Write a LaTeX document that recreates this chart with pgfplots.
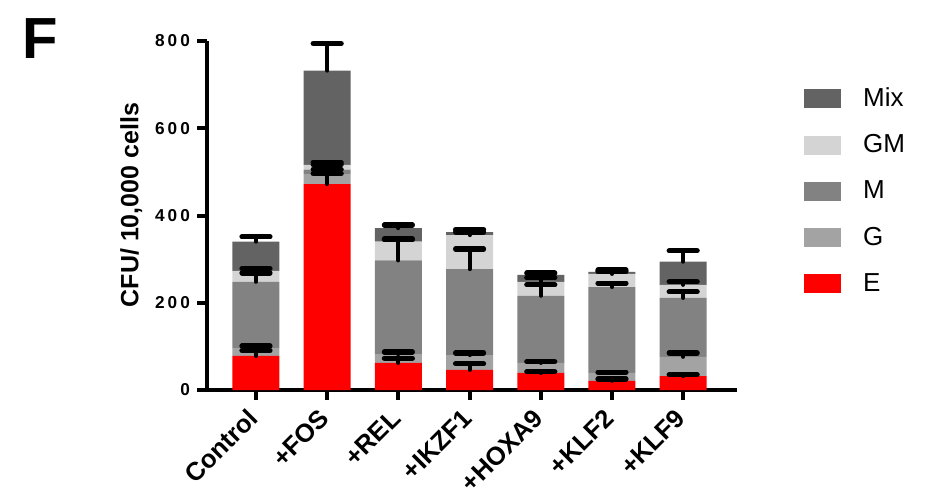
\documentclass[border=0pt]{standalone}
\usepackage{fontspec}
\setmainfont{Liberation Sans}
\usepackage{pgfplots}
\usepackage{pgfplotstable}
\pgfplotsset{compat=1.18}

\definecolor{cMix}{RGB}{99,99,99}
\definecolor{cGM}{RGB}{212,212,212}
\definecolor{cM}{RGB}{130,130,130}
\definecolor{cG}{RGB}{163,163,163}
\definecolor{cE}{RGB}{255,0,0}

% segment heights (stacked from the bottom: E, G, M, GM, Mix)
\pgfplotstableread{
x E   G  M   GM Mix
0 78  18 152 25 67
1 472 23 10  11 216
2 62  20 215 43 31
3 46  34 197 78 7
4 39  23 154 32 16
5 21  18 197 30 5
6 32  44 135 30 53
}\seg

% top of each segment and its error (plus only)
\pgfplotstableread{
x Et  Ee Gt  Ge Mt  Me GMt GMe Mixt Mixe
0 78  12 96  5  248 20 273 6   340  11
1 472 24 495 11 505 11 516 6   732  62
2 62  11 82  5  297 49 340 5   371  7
3 46  14 80  5  277 46 355 7   362  6
4 39  3  62  3  216 25 248 9   264  4
5 21  4  39  2  236 9  266 5   271  4
6 32  3  76  9  211 14 241 7   294  25
}\err

\pgfplotsset{
  frame/.style={
    at={(103.5pt,54pt)}, anchor=south west,
    scale only axis, width=265pt, height=174.5pt,
    xmin=-0.688, xmax=6.756, ymin=0, ymax=800,
  },
  eb/.style={
    draw=none, mark=none, forget plot,
    error bars/.cd, y dir=plus, y explicit, error mark=|,
    error bar style={draw=black, line width=2pt, line cap=round},
    error mark options={draw=black, line width=2.6pt, mark size=7pt, line cap=round},
  },
}

\begin{document}
\begin{tikzpicture}
\useasboundingbox (0,0) rectangle (470.5pt,249pt);
\node[anchor=north west, inner sep=0pt, font=\bfseries\fontsize{29}{29}\selectfont] at (11pt,240pt) {F};

\begin{axis}[
  frame,
  ybar stacked, bar width=23.5pt,
  axis lines=left,
  axis line style={line width=2.2pt, -},
  every tick/.style={line width=2pt, black},
  tick align=outside, major tick length=5pt,
  xtick=data,
  xticklabels={Control,+FOS,+REL,+IKZF1,+HOXA9,+KLF2,+KLF9},
  xticklabel style={xshift=2pt, yshift=-10pt, rotate=45, anchor=base east,
    inner sep=0pt, font=\bfseries\fontsize{12.8}{12.8}\selectfont},
  ytick={0,200,400,600,800},
  yticklabel style={font=\bfseries\fontsize{8.6}{8.6}\selectfont\addfontfeature{LetterSpace=18}},
  /pgf/number format/assume math mode=true,
  ylabel={CFU/ 10,000 cells},
  ylabel style={font=\bfseries\fontsize{12.5}{12.5}\selectfont,
    at={(axis description cs:-0.143,0.53)}, anchor=center},
  reverse legend,
  legend image code/.code={\fill[#1] (0pt,-4.75pt) rectangle (18.5pt,4.75pt);},
  legend style={at={(axis description cs:1.126,0.868)}, anchor=north west,
    draw=none, fill=none, inner sep=0pt, row sep=12.6pt,
    font=\fontsize{13}{13}\selectfont,
    nodes={inner sep=0pt},
    /tikz/every odd column/.append style={column sep=11pt}},
  legend cell align=left,
]
\addplot[fill=cE, draw=none] table[x=x, y=E] {\seg};
\addlegendentry{E}
\addplot[fill=cG, draw=none] table[x=x, y=G] {\seg};
\addlegendentry{G}
\addplot[fill=cM, draw=none] table[x=x, y=M] {\seg};
\addlegendentry{M}
\addplot[fill=cGM, draw=none] table[x=x, y=GM] {\seg};
\addlegendentry{GM}
\addplot[fill=cMix, draw=none] table[x=x, y=Mix] {\seg};
\addlegendentry{Mix}
\end{axis}

\begin{axis}[frame, axis lines=none, clip=false]
\addplot[eb] table[x=x, y=Et, y error=Ee] {\err};
\addplot[eb] table[x=x, y=Gt, y error=Ge] {\err};
\addplot[eb] table[x=x, y=Mt, y error=Me] {\err};
\addplot[eb] table[x=x, y=GMt, y error=GMe] {\err};
\addplot[eb] table[x=x, y=Mixt, y error=Mixe] {\err};
\end{axis}
\end{tikzpicture}
\end{document}
